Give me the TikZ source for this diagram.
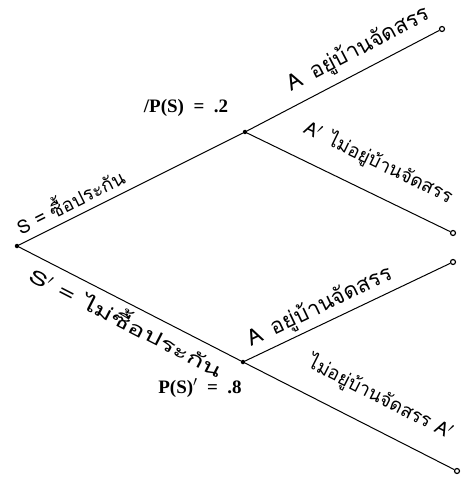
\documentclass[tikz,border=0pt]{standalone}
\usepackage{fontspec}
\setmainfont{Liberation Serif}
\newfontfamily\thaifont[Script=Thai]{Loma}
\newfontfamily\thaiwide[Script=Thai, FakeStretch=1.5]{Loma}
\usetikzlibrary{positioning}

\tikzset{
  branch/.style={line width=1pt},
  fork/.style={circle, fill, inner sep=0pt, minimum size=4.5pt},
  leaf/.style={circle, draw, line width=1.2pt, fill=white, inner sep=0pt, minimum size=5pt},
  prob/.style={font=\bfseries\fontsize{19}{21}\selectfont},
  thlbl/.style={sloped, font=\thaifont\fontsize{19}{22}\selectfont, inner sep=1pt}
}

\begin{document}
\begin{tikzpicture}[x=1pt, y=-1pt]
  \useasboundingbox (0,0) rectangle (464,478);
  % points of the tree
  \node[fork] (root) at (17,246) {};
  \node[fork] (buy) at (245,132) {};
  \node[fork] (nobuy) at (243,362) {};
  \node[leaf] (buyA) at (442,29) {};
  \node[leaf] (buyNA) at (453,233) {};
  \node[leaf] (nobuyA) at (453,262) {};
  \node[leaf] (nobuyNA) at (457,471) {};
  % first stage
  \draw[branch] (root) -- node[thlbl, pos=0.26, above=6pt] {S = ซื้อประกัน} (buy);
  \draw[branch] (root) -- node[thlbl, pos=0.52, below=4pt, font=\thaiwide\fontsize{19}{22}\selectfont] {S$'$ = ไม่ซื้อประกัน} (nobuy);
  % second stage
  \draw[branch] (buy) -- node[thlbl, pos=0.63, above=7pt, font=\thaifont\fontsize{22}{25}\selectfont] {A\enspace อยู่บ้านจัดสรร} (buyA);
  \draw[branch] (buy) -- node[thlbl, pos=0.58, above=18pt] {A$'$\enspace ไม่อยู่บ้านจัดสรร} (buyNA);
  \draw[branch] (nobuy) -- node[thlbl, pos=0.40, above=3pt, font=\thaifont\fontsize{22}{25}\selectfont] {A\enspace อยู่บ้านจัดสรร} (nobuyA);
  \draw[branch] (nobuy) -- node[thlbl, pos=0.58, above=18pt] {ไม่อยู่บ้านจัดสรร A$'$} (nobuyNA);
  % probabilities
  \node[prob] (pS) at (186,108) {/P(S)\enspace=\enspace.2};
  \node[prob] (pSc) at (200,388) {P(S)$'$\enspace=\enspace.8};
\end{tikzpicture}
\end{document}
